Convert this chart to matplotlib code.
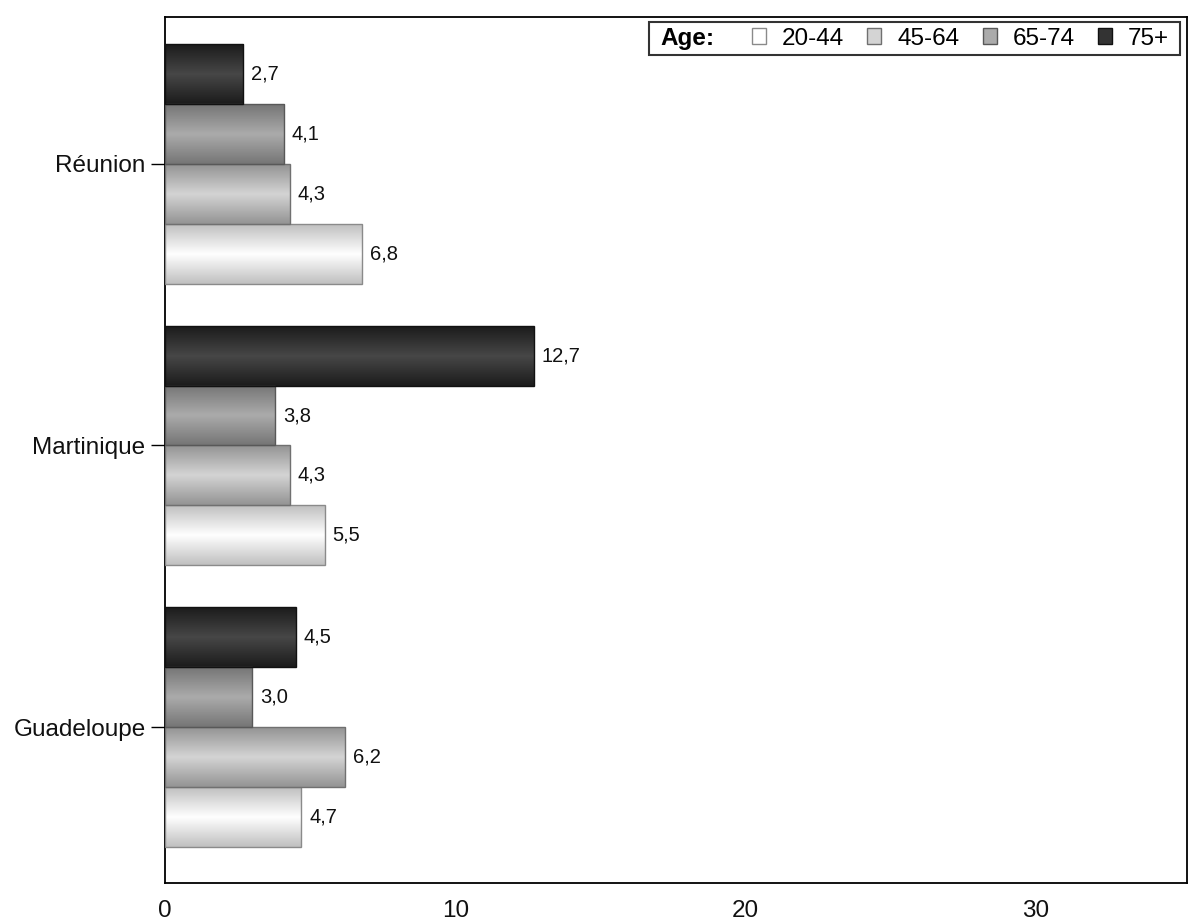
import numpy as np
import matplotlib.pyplot as plt
from matplotlib.patches import Patch
from matplotlib.colors import LinearSegmentedColormap
from matplotlib.offsetbox import HPacker, DrawingArea

plt.rcParams['font.family'] = ['Liberation Sans', 'DejaVu Sans']

regions = ["Guadeloupe", "Martinique", "Réunion"]
ages = ["20-44", "45-64", "65-74", "75+"]
v_20_44 = [4.7, 5.5, 6.8]
v_45_64 = [6.2, 4.3, 4.3]
v_65_74 = [3.0, 3.8, 4.1]
v_75 = [4.5, 12.7, 2.7]
series = [v_20_44, v_45_64, v_65_74, v_75]

# (edge shade, centre shade) for the vertical gradient of each series
shades = [("#c0c0c0", "#ffffff"), ("#949494", "#d4d4d4"),
          ("#767676", "#ababab"), ("#1c1c1c", "#474747")]
edges = ["#8a8a8a", "#707070", "#585858", "#111111"]

fig = plt.figure(figsize=(11.93, 9.24), dpi=100)
ax = fig.add_axes([165 / 1193, 1 - 883 / 924, 1022 / 1193, 866 / 924])

h = 0.213
y = np.arange(len(regions))
for i, vals in enumerate(series):
    pos = y + (i - 1.5) * h
    cmap = LinearSegmentedColormap.from_list("g", [shades[i][0], shades[i][1], shades[i][0]])
    grad = np.linspace(0, 1, 64).reshape(-1, 1)
    bars = ax.barh(pos, vals, height=h, facecolor="none", edgecolor=edges[i], linewidth=1, zorder=3)
    for b, v in zip(bars, vals):
        x0, y0 = b.get_x(), b.get_y()
        im = ax.imshow(grad, cmap=cmap, aspect="auto", extent=[x0, x0 + b.get_width(), y0, y0 + b.get_height()],
                       origin="lower", zorder=2)
        im.set_clip_path(b)
        ax.text(v + 0.27, b.get_y() + h / 2, f"{v:.1f}".replace(".", ","), va="center", ha="left",
                fontsize=14.5, color="#111111")

ax.set_xlim(0, 35.2)
ax.set_ylim(-0.554, 2.522)
ax.set_yticks(y)
ax.set_yticklabels(regions, fontsize=17.5, color="#111111")
ax.set_xticks([0, 10, 20, 30])
ax.tick_params(axis="x", length=0, labelsize=17.5, pad=12, labelcolor="#111111")
ax.tick_params(axis="y", length=10, width=1, pad=4)
for s in ax.spines.values():
    s.set_linewidth(1.3)

handles = []
for i in range(4):
    handles.append(Patch(facecolor=shades[i][1] if i < 3 else "#333333", edgecolor=edges[i]))
leg = ax.legend(handles, ages, ncol=4, loc="upper right", bbox_to_anchor=(0.9935, 0.994),
                title="Age:", title_fontproperties={"weight": "bold", "size": 17.5},
                frameon=True, fancybox=False, edgecolor="black", fontsize=17.5,
                handlelength=0.58, handleheight=0.58, handletextpad=0.66, columnspacing=0.95,
                borderaxespad=0)
# put the "Age:" title on the same row as the entries
inner = HPacker(pad=0, sep=27, align="center",
                children=[leg._legend_title_box, leg._legend_handle_box])
leg._legend_box = HPacker(pad=3.5, sep=0, align="center",
                          children=[DrawingArea(4.5, 1), inner, DrawingArea(4.5, 1)])
leg._legend_box.set_figure(fig)
leg._legend_box.axes = ax
leg._set_loc(leg._loc)
leg.get_frame().set_linewidth(1.5)

fig.savefig("out.png", dpi=100)
